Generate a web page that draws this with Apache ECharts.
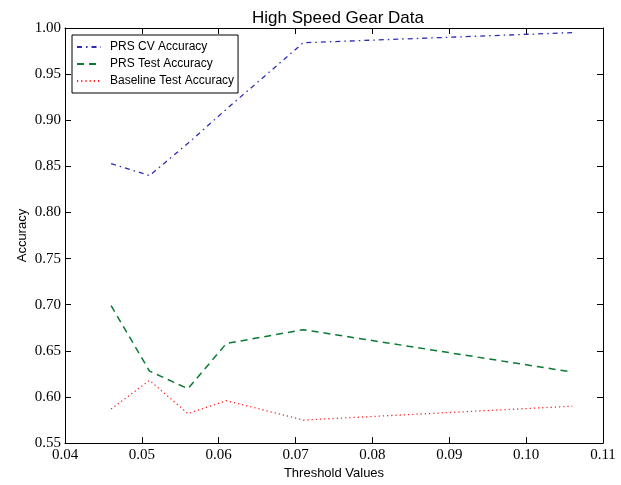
<!DOCTYPE html>
<html>
<head>
<meta charset="utf-8">
<script src="https://cdn.jsdelivr.net/npm/echarts@6/dist/echarts.min.js"></script>
<style>
  html, body { margin: 0; padding: 0; background: #fff; }
  #chart { width: 621px; height: 485px; }
</style>
</head>
<body>
<div id="chart"></div>
<script>
// Threshold values on the x axis
const thresholds = [0.046, 0.051, 0.056, 0.061, 0.071, 0.106];
// Accuracy per threshold
const prsCvAccuracy = [0.853, 0.840, 0.875, 0.912, 0.984, 0.995];
const prsTestAccuracy = [0.699, 0.628, 0.609, 0.658, 0.673, 0.627];
const baselineTestAccuracy = [0.587, 0.618, 0.582, 0.596, 0.575, 0.590];
// Axis ranges and tick spacing
const xRange = [0.04, 0.11], xStep = 0.01;
const yRange = [0.55, 1.00], yStep = 0.05;

const pairs = ys => thresholds.map((x, i) => [x, ys[i]]);

const serifFont = 'Liberation Serif';
const sansFont = 'Liberation Sans';

function axisBase(extra) {
  return Object.assign({
    type: 'value',
    axisLine: { show: true, onZero: false, lineStyle: { color: '#000', width: 1 } },
    axisTick: { show: true, inside: true, length: 6, lineStyle: { color: '#000' } },
    splitLine: { show: false }
  }, extra);
}

const chart = echarts.init(document.getElementById('chart'), null, { renderer: 'canvas' });
chart.setOption({
  animation: false,
  backgroundColor: '#fff',
  title: {
    text: 'High Speed Gear Data',
    left: 333, top: 5, textAlign: 'center',
    textStyle: { fontFamily: sansFont, fontSize: 17, fontWeight: 'normal', color: '#000' }
  },
  grid: { left: 65, right: 18, top: 28, bottom: 40, containLabel: false },
  legend: {
    orient: 'vertical',
    left: 72, top: 35,
    padding: [6, 4, 6, 4],
    itemGap: 5,
    itemWidth: 24, itemHeight: 11,
    backgroundColor: '#fff',
    borderColor: '#000', borderWidth: 1,
    itemStyle: { opacity: 0 },
    textStyle: { fontFamily: sansFont, fontSize: 12, color: '#000', padding: [0, 0, 0, 4] },
    data: ['PRS CV Accuracy', 'PRS Test Accuracy', 'Baseline Test Accuracy']
  },
  xAxis: [
    axisBase({
      min: xRange[0], max: xRange[1], interval: xStep, position: 'bottom',
      name: 'Threshold Values', nameLocation: 'middle', nameGap: 22,
      nameTextStyle: { fontFamily: sansFont, fontSize: 13, color: '#000' },
      axisLabel: { fontFamily: serifFont, fontSize: 15, color: '#000', margin: 4,
        formatter: v => v.toFixed(2) }
    }),
    axisBase({
      min: xRange[0], max: xRange[1], interval: xStep, position: 'top',
      axisLabel: { show: false }
    })
  ],
  yAxis: [
    axisBase({
      min: yRange[0], max: yRange[1], interval: yStep, position: 'left',
      name: 'Accuracy', nameLocation: 'middle', nameGap: 36, nameRotate: 90,
      nameMoveOverlap: false,
      nameTextStyle: { fontFamily: sansFont, fontSize: 13, color: '#000' },
      axisLabel: { fontFamily: serifFont, fontSize: 15, color: '#000', margin: 4,
        formatter: v => v.toFixed(2) }
    }),
    axisBase({
      min: yRange[0], max: yRange[1], interval: yStep, position: 'right',
      axisLabel: { show: false }
    })
  ],
  series: [
    {
      name: 'PRS CV Accuracy', type: 'line', data: pairs(prsCvAccuracy),
      symbol: 'none', color: '#2b2bb8',
      lineStyle: { color: '#2b2bb8', width: 1.3, type: [5, 4, 1.5, 4] }
    },
    {
      name: 'PRS Test Accuracy', type: 'line', data: pairs(prsTestAccuracy),
      symbol: 'none', color: '#0a7a32',
      lineStyle: { color: '#0a7a32', width: 1.5, type: [7, 5] }
    },
    {
      name: 'Baseline Test Accuracy', type: 'line', data: pairs(baselineTestAccuracy),
      symbol: 'none', color: '#ff2020',
      lineStyle: { color: '#ff2020', width: 1.3, type: [1.2, 3] }
    }
  ]
});
</script>
</body>
</html>
